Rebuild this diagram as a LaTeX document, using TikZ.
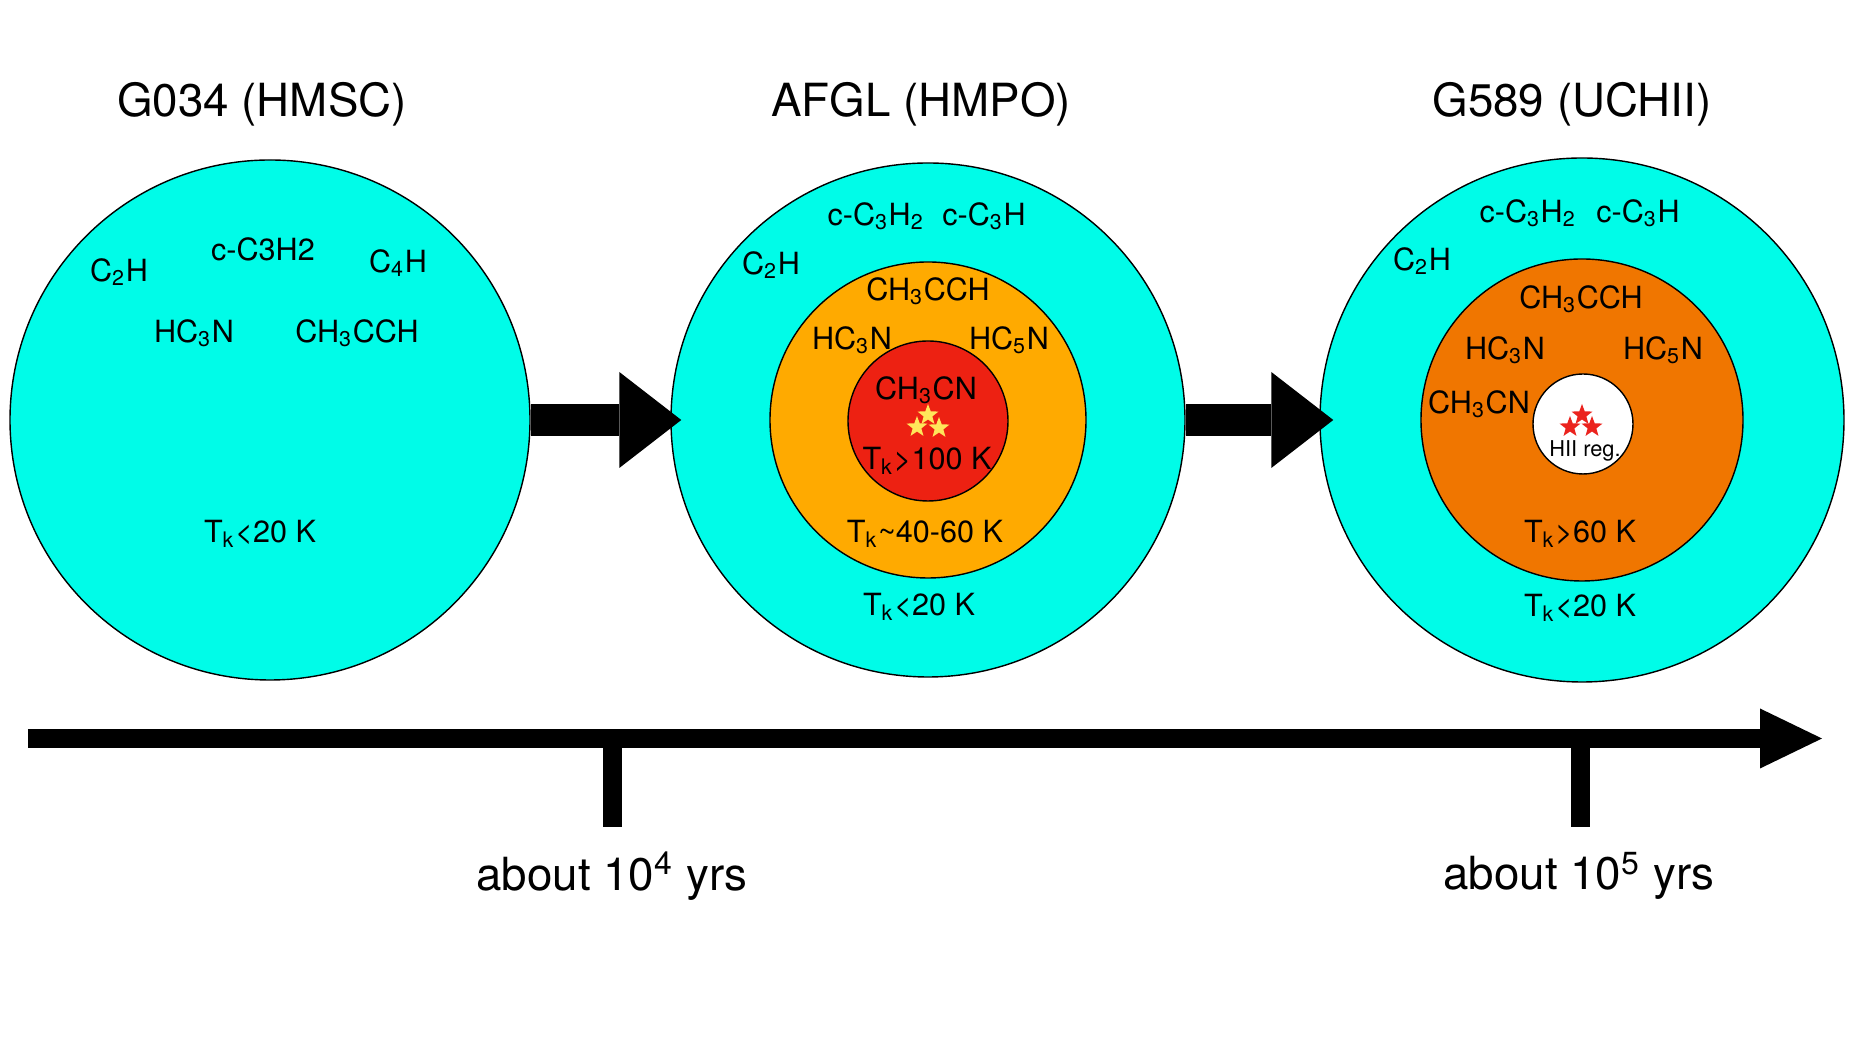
\documentclass[tikz,border=0pt]{standalone}
\usepackage{fontspec}
\setmainfont{TeX Gyre Heros}
\usetikzlibrary{shapes.geometric,arrows.meta}
\definecolor{cloudcyan}{RGB}{0,252,232}
\definecolor{warmorange}{RGB}{255,170,0}
\definecolor{hotred}{RGB}{237,33,18}
\definecolor{deeporange}{RGB}{240,118,0}
\definecolor{staryellow}{RGB}{255,230,90}
\definecolor{starred}{RGB}{235,35,30}
\begin{document}
\begin{tikzpicture}[
  shell/.style={draw, circle, inner sep=0pt, line width=0.4pt},
  mol/.style={font=\fontsize{8.7}{10}\selectfont, inner sep=1pt},
  ttl/.style={font=\fontsize{13}{15}\selectfont},
  ministar/.style={star, star points=5, star point ratio=2.4, inner sep=0pt, minimum size=0.22cm},
  blockarrow/.style={line width=0.32cm, -{Triangle[width=0.96cm, length=0.62cm, line width=0pt]}},
  timeline/.style={line width=0.19cm, -{Triangle[width=0.60cm, length=0.62cm, line width=0pt]}},
  tickmark/.style={line width=0.19cm}]
\useasboundingbox (0,0) rectangle (18.52,10.42);

% the three stages
\node[shell, fill=cloudcyan, minimum size=5.20cm] (g034) at (2.70,6.22) {};
\node[shell, fill=cloudcyan, minimum size=5.14cm] (afgl) at (9.28,6.22) {};
\node[shell, fill=warmorange, minimum size=3.16cm] (afglwarm) at (9.28,6.22) {};
\node[shell, fill=hotred, minimum size=1.60cm] (afglhot) at (9.28,6.21) {};
\node[shell, fill=cloudcyan, minimum size=5.24cm] (g589) at (15.82,6.22) {};
\node[shell, fill=deeporange, minimum size=3.22cm] (g589warm) at (15.82,6.22) {};
\node[shell, fill=white, minimum size=1.00cm] (hii) at (15.83,6.18) {};

\node[ttl] (t1) at (2.62,9.38) {G034 (HMSC)};
\node[ttl] (t2) at (9.21,9.38) {AFGL (HMPO)};
\node[ttl] (t3) at (15.72,9.38) {G589 (UCHII)};

% G034
\node[mol] (a1) at (1.19,7.70) {C\textsubscript{2}H};
\node[mol] (a2) at (2.63,7.93) {c-C3H2};
\node[mol] (a3) at (3.98,7.79) {C\textsubscript{4}H};
\node[mol] (a4) at (1.94,7.09) {HC\textsubscript{3}N};
\node[mol] (a5) at (3.57,7.09) {CH\textsubscript{3}CCH};
\node[mol] (a6) at (2.60,5.08) {T\textsubscript{k}<20 K};

% AFGL
\node[mol] (b1) at (8.76,8.26) {c-C\textsubscript{3}H\textsubscript{2}};
\node[mol] (b2) at (9.84,8.26) {c-C\textsubscript{3}H};
\node[mol] (b3) at (7.71,7.77) {C\textsubscript{2}H};
\node[mol] (b4) at (9.28,7.51) {CH\textsubscript{3}CCH};
\node[mol] (b5) at (8.52,7.02) {HC\textsubscript{3}N};
\node[mol] (b6) at (10.09,7.02) {HC\textsubscript{5}N};
\node[mol] (b7) at (9.26,6.52) {CH\textsubscript{3}CN};
\node[ministar, fill=staryellow] (bs1) at (9.28,6.27) {};
\node[ministar, fill=staryellow] (bs2) at (9.17,6.15) {};
\node[ministar, fill=staryellow] (bs3) at (9.39,6.14) {};
\node[mol] (b8) at (9.27,5.81) {T\textsubscript{k}>100 K};
\node[mol] (b9) at (9.25,5.08) {T\textsubscript{k}\textasciitilde40-60 K};
\node[mol] (b10) at (9.19,4.35) {T\textsubscript{k}<20 K};

% G589
\node[mol] (c1) at (15.28,8.29) {c-C\textsubscript{3}H\textsubscript{2}};
\node[mol] (c2) at (16.38,8.29) {c-C\textsubscript{3}H};
\node[mol] (c3) at (14.22,7.81) {C\textsubscript{2}H};
\node[mol] (c4) at (15.81,7.43) {CH\textsubscript{3}CCH};
\node[mol] (c5) at (15.05,6.92) {HC\textsubscript{3}N};
\node[mol] (c6) at (16.63,6.92) {HC\textsubscript{5}N};
\node[mol] (c7) at (14.79,6.38) {CH\textsubscript{3}CN};
\node[ministar, fill=starred] (cs1) at (15.82,6.27) {};
\node[ministar, fill=starred] (cs2) at (15.70,6.15) {};
\node[ministar, fill=starred] (cs3) at (15.92,6.15) {};
\node[font=\fontsize{6.2}{7}\selectfont, inner sep=0pt] (c8) at (15.85,5.91) {HII reg.};
\node[mol] (c9) at (15.80,5.08) {T\textsubscript{k}>60 K};
\node[mol] (c10) at (15.80,4.34) {T\textsubscript{k}<20 K};

% evolution
\path[draw, blockarrow] (g034.east) -- ([xshift=0.11cm]afgl.west);
\path[draw, blockarrow] (afgl.east) -- ([xshift=0.14cm]g589.west);

% time axis
\coordinate (tstart) at (0.28,3.035);
\coordinate (tend) at (18.22,3.035);
\coordinate (k4top) at (6.12,2.94);
\coordinate (k4end) at (6.12,2.15);
\coordinate (k5top) at (15.80,2.94);
\coordinate (k5end) at (15.80,2.15);
\path[draw, timeline] (tstart) -- (tend);
\path[draw, tickmark] (k4top) -- (k4end);
\path[draw, tickmark] (k5top) -- (k5end);
\node[ttl] (y4) at (6.12,1.66) {about 10\textsuperscript{4} yrs};
\node[ttl] (y5) at (15.79,1.66) {about 10\textsuperscript{5} yrs};
\end{tikzpicture}
\end{document}
